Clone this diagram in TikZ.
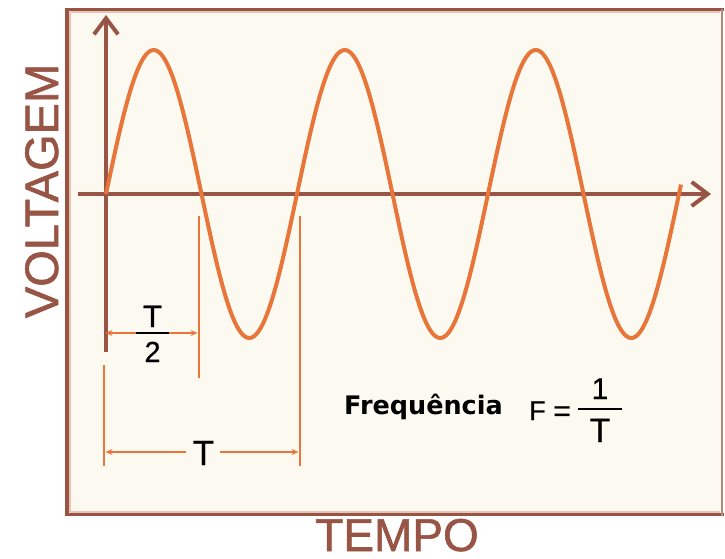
\documentclass[tikz,border=0pt]{standalone}
\usepackage{fontspec}
\setmainfont[FakeBold=0.6]{Liberation Sans}
\newfontfamily\labelfont[FakeBold=1.2]{Liberation Sans}
\newfontfamily\freqfont{DejaVu Sans}
\usetikzlibrary{arrows.meta}
\definecolor{axbrown}{RGB}{152,84,68}
\definecolor{wavecol}{RGB}{232,118,58}
\definecolor{cream}{RGB}{252,250,240}
\definecolor{halo}{RGB}{232,196,182}
\begin{document}
\begin{tikzpicture}[x=1pt,y=-1pt,
  axisline/.style={axbrown, line width=4pt, -{Straight Barb[length=16pt,width=24pt,line width=4pt]}},
  waveline/.style={wavecol, line width=4pt, line join=round},
  guide/.style={wavecol, line width=1.6pt},
  dimline/.style={wavecol, line width=1.6pt, -{Stealth[length=7pt,width=6pt]}},
  bigtext/.style={axbrown, font=\labelfont\fontsize{47}{47}\selectfont, inner sep=0pt},
  dimtext/.style={black, inner sep=0pt},
  frametext/.style={black, inner sep=0pt}]
\useasboundingbox (0,0) rectangle (725,559);
\fill[white] (0,0) rectangle (725,559);
% frame
\fill[cream] (67,9) rectangle (722,515);
\draw[halo, line width=1.5pt] (70,12) -- (720,12);
\draw[halo, line width=1.5pt] (70,12) -- (70,512);
\draw[halo, line width=1.5pt] (70,512) -- (720,512);
\draw[axbrown, line width=4pt] (67,9) -- (67,516);
\draw[axbrown, line width=3pt] (65,9.5) -- (724,9.5);
\draw[axbrown, line width=3pt] (65,514.5) -- (724,514.5);
\draw[axbrown!70, line width=1.5pt] (722,9) -- (722,516);
% axes
\coordinate (ybot) at (106,352);
\coordinate (ytop) at (106,15);
\coordinate (xleft) at (78,194);
\coordinate (xright) at (711,194);
\draw[axisline] (ybot) -- (ytop);
\draw[axisline] (xleft) -- (xright);
% wave
\draw[waveline] plot[domain=106:681, samples=300, smooth] (\x, {194-144*sin(1.884817*(\x-106))});
% guide lines
\coordinate (g0a) at (104,365); \coordinate (g0b) at (104,466);
\coordinate (g1a) at (199,216); \coordinate (g1b) at (199,378);
\coordinate (g2a) at (300,216); \coordinate (g2b) at (300,466);
\draw[guide] (g0a) -- (g0b);
\draw[guide] (g1a) -- (g1b);
\draw[guide] (g2a) -- (g2b);
% T/2
\node[dimtext, font=\fontsize{31}{31}\selectfont, anchor=base] (halfT) at (152.5,327) {T};
\node[dimtext, font=\fontsize{29}{29}\selectfont, anchor=base] (halftwo) at (152.5,362) {2};
\coordinate (hbl) at (136,333); \coordinate (hbr) at (169,333);
\draw[black, line width=2pt] (hbl) -- (hbr);
\coordinate (h0) at (105.5,333); \coordinate (h1) at (197.5,333);
\draw[dimline] (hbl) -- (h0);
\draw[dimline] (hbr) -- (h1);
% T
\node[dimtext, font=\fontsize{35}{35}\selectfont, anchor=base] (fullT) at (203.5,465) {T};
\coordinate (t0) at (105.5,452); \coordinate (t1) at (298.5,452);
\coordinate (tl) at (186,452); \coordinate (tr) at (220,452);
\draw[dimline] (tl) -- (t0);
\draw[dimline] (tr) -- (t1);
% frequency
\node[frametext, font=\freqfont\bfseries\fontsize{25.5}{25.5}\selectfont, anchor=base west] (freq) at (344,414) {Frequência};
\node[frametext, font=\fontsize{27}{27}\selectfont, anchor=base west] (fF) at (529,420) {F};
\node[frametext, font=\fontsize{30}{30}\selectfont, anchor=base east] (feq) at (571,421) {=};
\coordinate (fbl) at (578,409); \coordinate (fbr) at (622,409);
\draw[black, line width=2pt] (fbl) -- (fbr);
\node[frametext, font=\fontsize{30}{30}\selectfont, anchor=base] (fone) at (600,399) {1};
\node[frametext, font=\fontsize{34}{34}\selectfont, anchor=base] (fT) at (600,442) {T};
% axis labels
\node[bigtext, rotate=90, anchor=base] (volt) at (58,191) {VOLTAGEM};
\node[bigtext, anchor=base, font=\labelfont\fontsize{46}{46}\selectfont] (tempo) at (397,551) {TEMPO};
\end{tikzpicture}
\end{document}
